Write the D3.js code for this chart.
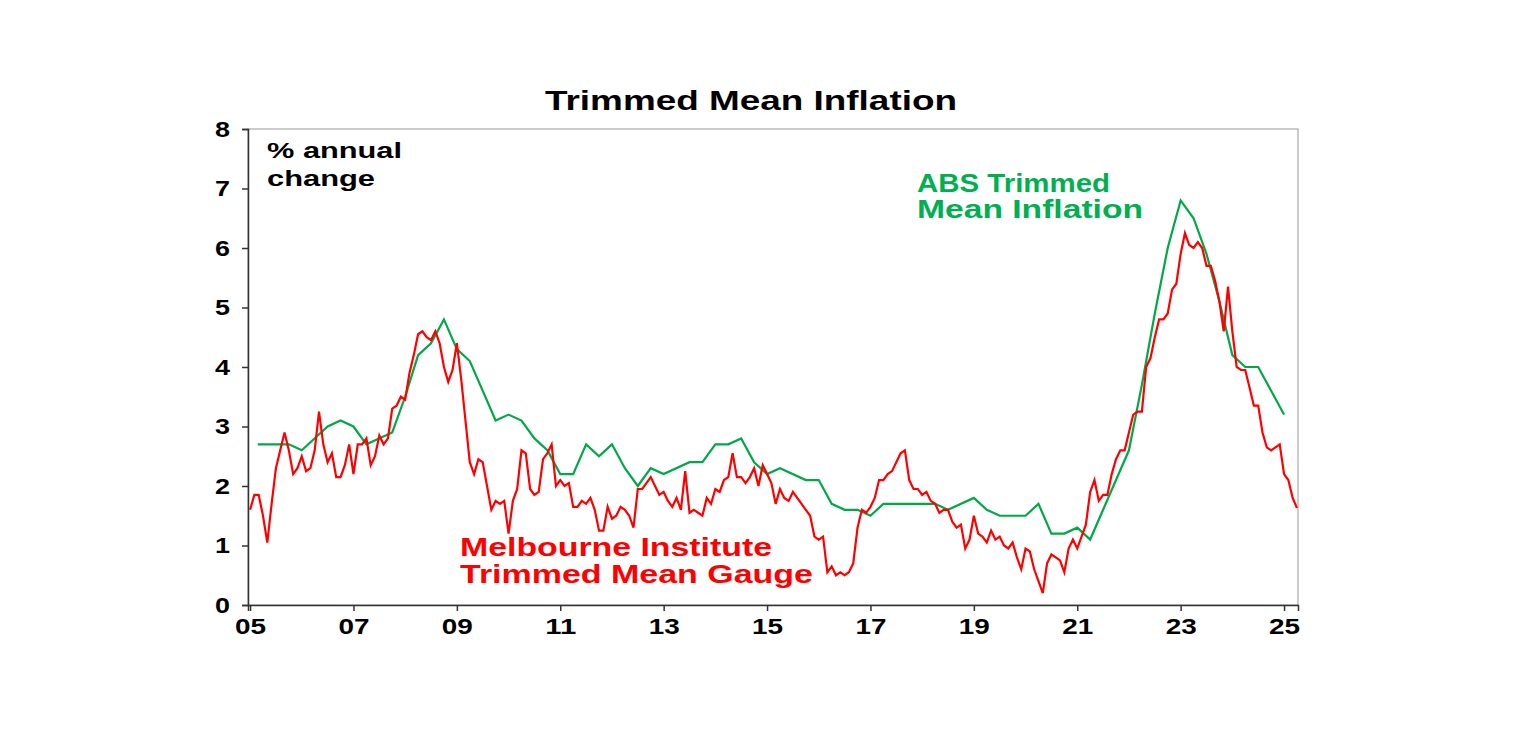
<!DOCTYPE html>
<html><head><meta charset="utf-8">
<script src="https://cdn.jsdelivr.net/npm/d3@7"></script>
<style>body{margin:0;background:#fff;}text{font-family:"Liberation Sans",Arial,sans-serif;font-weight:bold;}</style>
</head><body><svg id="c" width="1536" height="737"></svg>
<script>
const redStart = 2005;
const redValues = [
1.6,1.85,1.85,1.5,1.05,1.7,2.3,2.6,2.9,2.6,2.2,2.3,
2.5,2.25,2.3,2.6,3.25,2.7,2.4,2.55,2.15,2.15,2.35,2.7,
2.2,2.7,2.7,2.8,2.35,2.5,2.85,2.7,2.8,3.3,3.35,3.5,
3.45,3.9,4.2,4.55,4.6,4.5,4.45,4.6,4.4,4.0,3.75,3.95,
4.4,3.8,3.1,2.4,2.2,2.45,2.4,2.0,1.6,1.75,1.7,1.75,
1.2,1.75,1.95,2.6,2.55,1.95,1.85,1.9,2.45,2.55,2.7,2.0,
2.1,2.0,2.05,1.65,1.65,1.75,1.7,1.8,1.6,1.25,1.25,1.65,
1.45,1.5,1.65,1.6,1.5,1.3,1.95,1.95,2.05,2.15,2.0,1.85,
1.9,1.75,1.65,1.8,1.6,2.25,1.55,1.6,1.55,1.5,1.8,1.7,
1.95,1.9,2.1,2.15,2.55,2.15,2.15,2.05,2.15,2.3,2.0,2.35,
2.2,2.05,1.7,1.95,1.8,1.75,1.9,1.8,1.7,1.6,1.5,1.15,
1.1,1.15,0.55,0.65,0.5,0.55,0.5,0.55,0.7,1.3,1.6,1.55,
1.65,1.8,2.1,2.1,2.2,2.25,2.4,2.55,2.6,2.1,1.95,1.95,
1.85,1.9,1.75,1.7,1.55,1.6,1.6,1.4,1.3,1.35,0.95,1.1,
1.5,1.2,1.15,1.05,1.25,1.1,1.15,1.0,0.95,1.05,0.8,0.6,
0.95,0.9,0.6,0.4,0.2,0.7,0.85,0.8,0.75,0.55,0.95,1.1,
0.95,1.15,1.35,1.9,2.1,1.75,1.85,1.85,2.2,2.45,2.6,2.6,
2.9,3.2,3.25,3.25,4.0,4.15,4.5,4.8,4.8,4.9,5.3,5.4,
5.9,6.25,6.05,6.0,6.1,6.0,5.7,5.7,5.45,5.1,4.6,5.35,
4.6,4.0,3.95,3.95,3.65,3.35,3.35,2.9,2.65,2.6,2.65,2.7,
2.2,2.1,1.8,1.63];
const greenDates = [2005.15,2005.75,2006.0,2006.5,2006.75,2007.0,2007.25,2007.75,2008.0,2008.25,2008.5,2008.75,2009.0,2009.25,2009.75,2010.0,2010.25,2010.5,2010.75,2011.0,2011.25,2011.5,2011.75,2012.0,2012.25,2012.5,2012.75,2013.0,2013.5,2013.75,2014.0,2014.25,2014.5,2014.75,2015.0,2015.25,2015.75,2016.0,2016.25,2016.5,2016.75,2017.0,2017.25,2018.0,2018.25,2018.5,2019.0,2019.25,2019.5,2020.0,2020.25,2020.5,2020.75,2021.0,2021.25,2021.5,2021.75,2022.0,2022.25,2022.5,2022.75,2023.0,2023.25,2023.5,2023.75,2024.0,2024.25,2024.5,2024.75,2025.0];
const greenValues = [2.7,2.7,2.6,3.0,3.1,3.0,2.7,2.9,3.5,4.2,4.4,4.8,4.3,4.1,3.1,3.2,3.1,2.8,2.6,2.2,2.2,2.7,2.5,2.7,2.3,2.0,2.3,2.2,2.4,2.4,2.7,2.7,2.8,2.4,2.2,2.3,2.1,2.1,1.7,1.6,1.6,1.5,1.7,1.7,1.7,1.6,1.8,1.6,1.5,1.5,1.7,1.2,1.2,1.3,1.1,1.6,2.1,2.6,3.7,4.9,6.0,6.8,6.5,5.9,5.1,4.2,4.0,4.0,3.6,3.2];
const xTicks = [2005,2007,2009,2011,2013,2015,2017,2019,2021,2023,2025];
const yTicks = [0,1,2,3,4,5,6,7,8];

const svg = d3.select("#c");
const L=248,R=1298,T=129,B=605;
const x = d3.scaleLinear().domain([2004.96,2025.27]).range([L,R]);
const y = d3.scaleLinear().domain([0,8]).range([B,T]);

svg.append("rect").attr("x",L).attr("y",T).attr("width",R-L).attr("height",B-T).attr("fill","none").attr("stroke","#999").attr("stroke-width",1);

const yAx = svg.append("g").attr("transform",`translate(${L},0)`).call(d3.axisLeft(y).tickValues(yTicks).tickSize(6).tickFormat(d3.format("d")));
const xAx = svg.append("g").attr("transform",`translate(0,${B})`).call(d3.axisBottom(x).tickValues(xTicks).tickSize(6).tickFormat(d=>String(d%100).padStart(2,"0")));
[yAx,xAx].forEach(g=>{g.selectAll("path,line").attr("stroke","#333").attr("stroke-width",1.5);g.selectAll("text").attr("fill","#000").style("font-size","22px");});
yAx.selectAll("text").attr("dx","-9px").attr("textLength",15).attr("lengthAdjust","spacingAndGlyphs");
xAx.selectAll("text").attr("dy","0.9em").attr("textLength",31).attr("lengthAdjust","spacingAndGlyphs");

const redData = redValues.map((v,i)=>[redStart+i/12,v]);
const line = d3.line().x(d=>x(d[0])).y(d=>y(d[1]));
svg.append("path").datum(greenDates.map((d,i)=>[d,greenValues[i]])).attr("d",line).attr("fill","none").attr("stroke","#00a847").attr("stroke-width",2.2);
svg.append("path").datum(redData).attr("d",line).attr("fill","none").attr("stroke","#ff0000").attr("stroke-width",2.2);

function label(txt,xp,yp,size,w,color,anchor){
  svg.append("text").attr("x",xp).attr("y",yp).attr("fill",color).attr("text-anchor",anchor||"start")
    .style("font-size",size+"px").attr("textLength",w).attr("lengthAdjust","spacingAndGlyphs").text(txt);
}
label("Trimmed Mean Inflation",545,110,27,412,"#000");
label("% annual",267,158,22,135,"#000");
label("change",267,186,22,108,"#000");
label("ABS Trimmed",917,192,25,193,"#00b050");
label("Mean Inflation",917,218,25,226,"#00b050");
label("Melbourne Institute",460,556,25,312,"#ff0000");
label("Trimmed Mean Gauge",460,583,25,353,"#ff0000");
</script></body></html>
